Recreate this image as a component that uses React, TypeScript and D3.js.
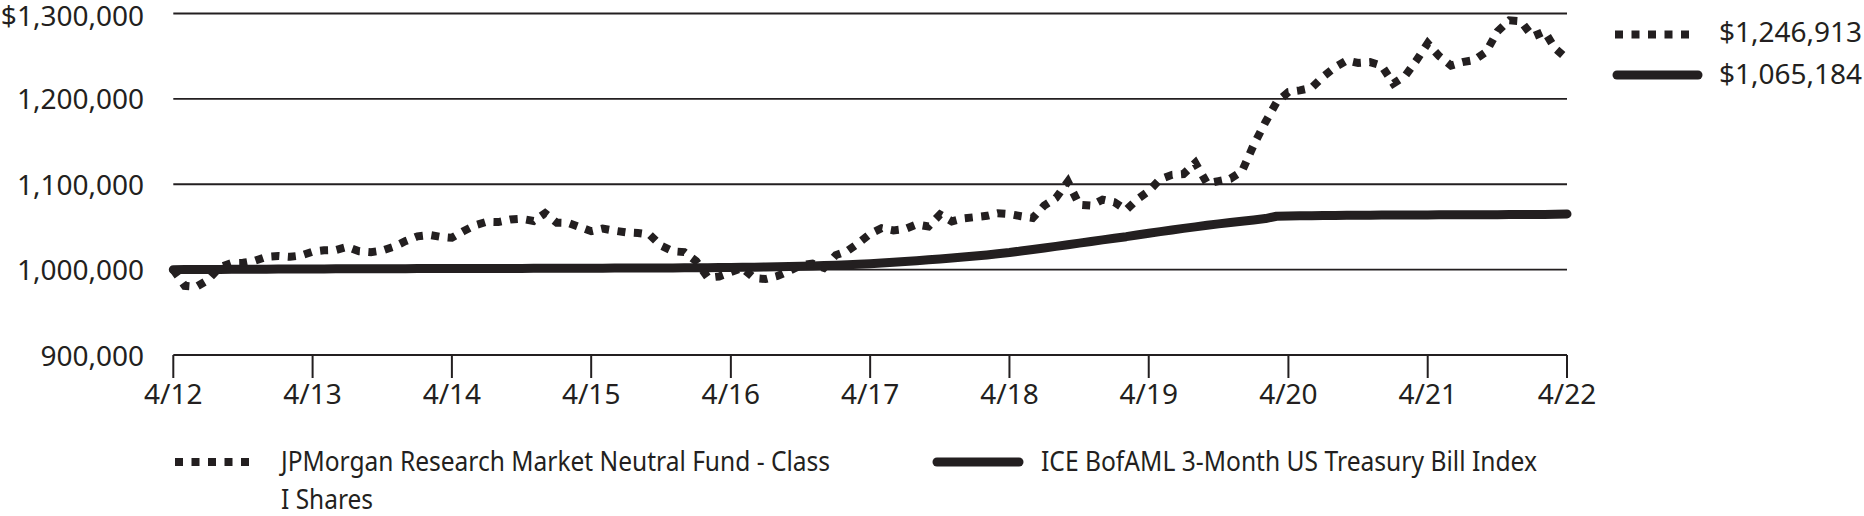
import React from "react";
import * as d3 from "d3";

const tickLabels = ["4/12", "4/13", "4/14", "4/15", "4/16", "4/17", "4/18", "4/19", "4/20", "4/21", "4/22"];
const yTicks = [900000, 1000000, 1100000, 1200000, 1300000];
const fundLabel1 = "JPMorgan Research Market Neutral Fund - Class";
const fundLabel2 = "I Shares";
const indexLabel = "ICE BofAML 3-Month US Treasury Bill Index";
const fundEndLabel = "$1,246,913";
const indexEndLabel = "$1,065,184";

// monthly values, April 2012 .. April 2022
const fundValues = [
  1000000, 981000, 980000, 988000, 1003000, 1007700, 1008000, 1010500, 1015000, 1016000, 1015000, 1016500,
  1021000, 1022600, 1023000, 1026600, 1021500, 1020500, 1022500, 1027000, 1033500, 1039000, 1040600, 1038500,
  1037300, 1045000, 1052000, 1056000, 1055700, 1058600, 1059500, 1057000, 1066000, 1055000, 1054600, 1050000,
  1045000, 1048000, 1045600, 1043700, 1042900, 1041000, 1028000, 1021500, 1020500, 1010000, 990500, 992000,
  997000, 1002000, 990000, 989000, 992500, 998500, 1005000, 1007000, 1002000, 1017000, 1022000, 1031000,
  1042000, 1048500, 1046000, 1047500, 1053000, 1050500, 1064500, 1056500, 1060000, 1061500, 1063000, 1066000,
  1065000, 1062600, 1060500, 1075000, 1084000, 1103000, 1076000, 1075000, 1082000, 1079000, 1070000, 1082000,
  1092000, 1106000, 1111000, 1112000, 1125000, 1101000, 1103600, 1106500, 1115000, 1146000, 1173000, 1196000,
  1208000, 1210000, 1213000, 1226000, 1237000, 1245000, 1242000, 1243000, 1239000, 1218000, 1227000, 1244000,
  1265000, 1250000, 1239000, 1243000, 1245500, 1255000, 1279000, 1292000, 1291000, 1273000, 1279000, 1259000,
  1246913,
];

const indexValues = [
  1000000, 1000100, 1000100, 1000200, 1000200, 1000300, 1000400, 1000400, 1000500, 1000600, 1000600, 1000700,
  1000800, 1000800, 1000900, 1000900, 1001000, 1001000, 1001100, 1001100, 1001100, 1001200, 1001200, 1001200,
  1001300, 1001300, 1001300, 1001300, 1001400, 1001400, 1001400, 1001500, 1001500, 1001500, 1001600, 1001600,
  1001700, 1001700, 1001800, 1001800, 1001900, 1001900, 1002000, 1002000, 1002100, 1002200, 1002300, 1002400,
  1002500, 1002700, 1002900, 1003100, 1003300, 1003600, 1003900, 1004300, 1004700, 1005200, 1005700, 1006300,
  1007000, 1007800, 1008700, 1009600, 1010500, 1011500, 1012500, 1013600, 1014700, 1015900, 1017200, 1018600,
  1020000, 1021800, 1023600, 1025400, 1027200, 1029100, 1031000, 1032900, 1034800, 1036700, 1038600, 1040600,
  1042600, 1044500, 1046400, 1048300, 1050100, 1051900, 1053600, 1055200, 1056700, 1058200, 1059800, 1062500,
  1062800, 1063000, 1063200, 1063400, 1063500, 1063600, 1063700, 1063800, 1063900, 1064000, 1064000, 1064100,
  1064100, 1064200, 1064200, 1064300, 1064300, 1064400, 1064400, 1064500, 1064500, 1064600, 1064700, 1064900,
  1065184,
];

const INK = "#231f20";
const FONT = "'Noto Sans', sans-serif";

export default function App() {
  const width = 1864;
  const height = 516;
  const x0 = 173.3;
  const x1 = 1567;
  const yTop = 13.5;
  const yBot = 355;

  const startDate = new Date(2012, 3, 1);
  const dateAt = (i: number) => d3.timeMonth.offset(startDate, i);
  const x = d3.scaleTime().domain([startDate, dateAt(120)]).range([x0, x1]);
  const y = d3.scaleLinear().domain([900000, 1300000]).range([yBot, yTop]);

  const line = d3
    .line<number>()
    .x((_, i) => x(dateAt(i)))
    .y((d) => y(d));

  const fmt = d3.format(",");
  const maxY = d3.max(yTicks) as number;
  const tickDates = tickLabels.map((_, k) => d3.timeYear.offset(startDate, k));

  return (
    <svg
      width={width}
      height={height}
      style={{ position: "absolute", left: 0, top: 0, background: "#fff" }}
      fontFamily={FONT}
    >
      {/* grid lines */}
      {yTicks
        .filter((v) => v !== 900000)
        .map((v) => (
          <line key={v} x1={x0} x2={x1} y1={y(v)} y2={y(v)} stroke={INK} strokeWidth={1.8} />
        ))}
      {/* y labels */}
      {yTicks.map((v) => (
        <text
          key={v}
          x={144}
          y={y(v) + (v === maxY ? 2.5 : 0.5)}
          dy="0.36em"
          textAnchor="end"
          fontSize={28}
          fill={INK}
        >
          {v === maxY ? "$" + fmt(v) : fmt(v)}
        </text>
      ))}
      {/* x axis */}
      <line x1={x0} x2={x1} y1={yBot} y2={yBot} stroke={INK} strokeWidth={2} />
      {tickDates.map((d, k) => (
        <g key={k}>
          <line x1={x(d)} x2={x(d)} y1={yBot} y2={yBot + 23} stroke={INK} strokeWidth={2} />
          <text x={x(d)} y={404} textAnchor="middle" fontSize={28} fill={INK}>
            {tickLabels[k]}
          </text>
        </g>
      ))}
      {/* series */}
      <path
        d={line(indexValues) || ""}
        fill="none"
        stroke={INK}
        strokeWidth={9}
        strokeLinecap="round"
        strokeLinejoin="round"
      />
      <path
        d={line(fundValues) || ""}
        fill="none"
        stroke={INK}
        strokeWidth={8}
        strokeDasharray="8 8.5"
        strokeLinecap="butt"
      />
      {/* top-right end value legend */}
      <line x1={1615} x2={1690} y1={34.5} y2={34.5} stroke={INK} strokeWidth={8} strokeDasharray="8 8.5" />
      <text x={1719} y={42} fontSize={28} fill={INK}>
        {fundEndLabel}
      </text>
      <line x1={1617} x2={1698} y1={75} y2={75} stroke={INK} strokeWidth={9} strokeLinecap="round" />
      <text x={1719} y={84} fontSize={28} fill={INK}>
        {indexEndLabel}
      </text>
      {/* bottom legend */}
      <line x1={175} x2={250} y1={462} y2={462} stroke={INK} strokeWidth={8} strokeDasharray="8 8.5" />
      <text x={281} y={471} fontSize={27} fill={INK} textLength={549} lengthAdjust="spacingAndGlyphs">
        {fundLabel1}
      </text>
      <text x={281} y={509} fontSize={27} fill={INK} textLength={92} lengthAdjust="spacingAndGlyphs">
        {fundLabel2}
      </text>
      <line x1={937} x2={1019} y1={462} y2={462} stroke={INK} strokeWidth={9} strokeLinecap="round" />
      <text x={1041} y={471} fontSize={27} fill={INK} textLength={496} lengthAdjust="spacingAndGlyphs">
        {indexLabel}
      </text>
    </svg>
  );
}
